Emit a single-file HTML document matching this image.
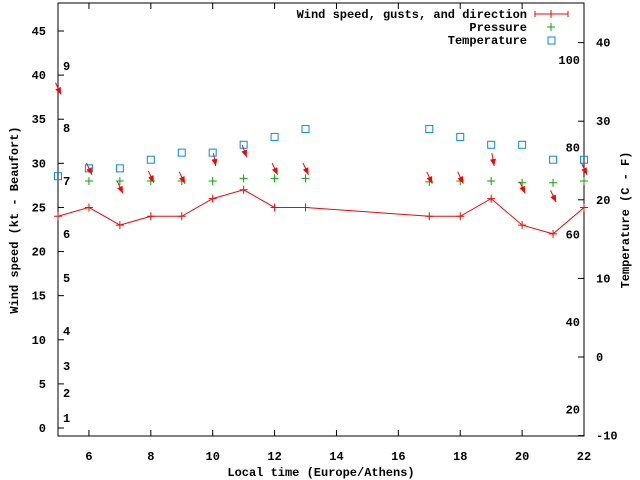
<!DOCTYPE html>
<html><head><meta charset="utf-8"><style>
body{margin:0;background:#fff}
svg{display:block;font-family:"Liberation Mono",monospace;font-size:12px;font-weight:bold}
</style></head><body>
<svg id="c" width="640" height="480"></svg>
<script>
const hours=[5,6,7,8,9,10,11,12,13,17,18,19,20,21,22];
const wind=[24,25,23,24,24,26,27,25,25,24,24,26,23,22,25];
const gust=[37.8,28.7,26.6,27.8,27.7,29.7,30.7,28.7,28.7,27.7,27.7,29.7,26.6,25.6,28.7];
const dirDeg=[335,335,335,335,335,350,340,335,335,335,335,350,335,335,335];
const pHours=[6,7,8,9,10,11,12,13,17,18,19,20,21,22];
const pressure=[28,28,28,28,28,28.3,28.3,28.3,27.9,28,28,27.8,27.8,28];
const tempC=[23,24,24,25.1,26,26,27,28,29,29,28,27,27,25.1,25.1];
const xTicks=[6,8,10,12,14,16,18,20,22];
const yTicks=[0,5,10,15,20,25,30,35,40,45];
const y2Ticks=[-10,0,10,20,30,40];
const bft=[[1,418],[2,393],[3,366],[4,331],[5,278],[6,234],[7,181],[8,128],[9,66]];
const fTicks=[100,80,60,40,20];
const L=58,R=584,T=3,B=436;
const X=h=>L+(h-5)*(R-L)/17;
const Y=v=>428-v*(428-31)/45;
const Y2=c=>357-c*7.86;
const YF=f=>Y2((f-32)*5/9);
const s=document.getElementById('c');const NS='http://www.w3.org/2000/svg';
function el(t,a,txt){const e=document.createElementNS(NS,t);for(const k in a)e.setAttribute(k,a[k]);if(txt!=null)e.textContent=txt;s.appendChild(e);return e;}
let e=el('rect',{x:L,y:T,width:R-L,height:B-T,fill:'none',stroke:'#000'});


xTicks.forEach(h=>{el('line',{x1:X(h),x2:X(h),y1:B,y2:B-6,stroke:'#000'});el('line',{x1:X(h),x2:X(h),y1:T,y2:T+6,stroke:'#000'});
e=el('text',{x:X(h),y:460,'text-anchor':'middle'},h);

});
yTicks.forEach(v=>{el('line',{x1:L,x2:L+6,y1:Y(v),y2:Y(v),stroke:'#000'});
e=el('text',{x:46,y:Y(v)+4,'text-anchor':'end'},v);

});
y2Ticks.forEach(v=>{el('line',{x1:R,x2:R-6,y1:Y2(v),y2:Y2(v),stroke:'#000'});
e=el('text',{x:596,y:Y2(v)+4},v);

});
bft.forEach(b=>{e=el('text',{x:63,y:b[1]+4},b[0]);

});
fTicks.forEach(f=>{e=el('text',{x:580,y:YF(f)+4,'text-anchor':'end'},f);

});
e=el('text',{x:321,y:476,'text-anchor':'middle'},'Local time (Europe/Athens)');


e=el('text',{x:18,y:220,'text-anchor':'middle',transform:'rotate(-90 18 220)'},'Wind speed (kt - Beaufort)');


e=el('text',{x:629,y:220,'text-anchor':'middle',transform:'rotate(-90 629 220)'},'Temperature (C - F)');


// wind line
e=el('polyline',{points:hours.map((h,i)=>X(h)+','+Y(wind[i])).join(' '),fill:'none',stroke:'#f00'});


function plus(x,y,c,n){e=el('path',{d:`M${x-4},${y}h8M${x},${y-4}v8`,stroke:c,'stroke-width':1});

}
hours.forEach((h,i)=>plus(X(h),Y(wind[i]),'#f00','wind-point'));
pHours.forEach((h,i)=>plus(X(h),Y(pressure[i]),'#0a0','pressure-point'));
hours.forEach((h,i)=>{e=el('rect',{x:X(h)-3.5,y:Y2(tempC[i])-3.5,width:7,height:7,fill:'none',stroke:'#08f'});

});
hours.forEach((h,i)=>{const a=dirDeg[i]*Math.PI/180;const hx=X(h)+3,hy=Y(gust[i]);
const tx=hx+Math.sin(a)*13,ty=hy-Math.cos(a)*13;
e=el('line',{x1:tx,y1:ty,x2:hx,y2:hy,stroke:'#f00'});


const ux=(hx-tx)/13,uy=(hy-ty)/13;
el('polygon',{points:`${hx},${hy} ${hx-ux*7-uy*3},${hy-uy*7+ux*3} ${hx-ux*7+uy*3},${hy-uy*7-ux*3}`,fill:'#f00'});});
// legend
const lg=[['Wind speed, gusts, and direction',14],['Pressure',27],['Temperature',40]];
lg.forEach(l=>{e=el('text',{x:527,y:l[1]+4,'text-anchor':'end'},l[0]);

});
el('path',{d:'M535,14h33M535,11v6M568,11v6',stroke:'#f00'});plus(551,14,'#f00','legend-wind');
plus(551,27,'#0a0','legend-pressure');
e=el('rect',{x:548,y:37,width:7,height:7,fill:'none',stroke:'#08f'});


</script>
</body></html>
